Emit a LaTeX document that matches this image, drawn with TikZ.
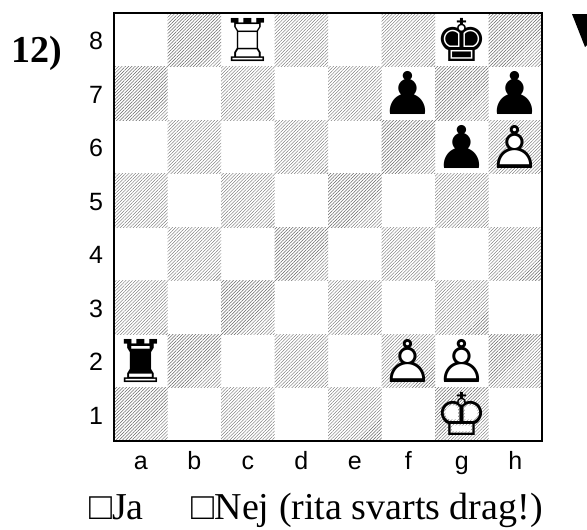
\documentclass[tikz,border=0pt]{standalone}
\usepackage{fontspec}
\setmainfont{Liberation Serif}
\newfontfamily\labfont{Liberation Sans}
\newfontfamily\chessfont{DejaVu Sans}
\usetikzlibrary{patterns.meta}
\begin{document}
\begin{tikzpicture}[x=1pt,y=-1pt,
  hatch/.style={pattern={Lines[angle=45,distance=2.3pt,line width=0.4pt]},pattern color=black!60},
  coord/.style={font=\labfont\fontsize{25}{25}\selectfont,inner sep=0,anchor=base},
  piece/.style={font=\chessfont\fontsize{59}{59}\selectfont,inner sep=0},
  bottomtext/.style={font=\fontsize{38}{38}\selectfont,inner sep=0}]
\path[use as bounding box] (0,0) rectangle (587,530);
\def\bx{114}\def\by{13}\def\sq{53.5}
% hatched dark squares
\foreach \i in {0,...,7}{
  \foreach \j in {0,...,7}{
    \pgfmathtruncatemacro\s{\i+\j}
    \ifodd\s\else
      \fill[hatch] ({\bx+\sq*\i},{\by+\sq*(7-\j)}) rectangle ++(\sq,\sq);
    \fi
  }
}
\draw[line width=1.6pt] (\bx,\by) rectangle ++(8*\sq,8*\sq);
% rank labels
\foreach \r in {1,...,8}{
  \node[coord] (rank\r) at (96,{\by+\sq*(8-\r+0.5)+10}) {\r};
}
% file labels
\foreach \f [count=\k from 0] in {a,b,c,d,e,f,g,h}{
  \node[coord] (file\f) at ({\bx+\sq*(\k+0.5)},469) {\f};
}
% white pieces (interior filled white first)
\node[piece,text=white] at ({\bx+\sq*2.5},{\by+\sq*0.5}) {♜};
\node[piece] (wRc8) at ({\bx+\sq*2.5},{\by+\sq*0.5}) {♖};
\node[piece,text=white] at ({\bx+\sq*7.5},{\by+\sq*2.5}) {♟};
\node[piece] (wPh6) at ({\bx+\sq*7.5},{\by+\sq*2.5}) {♙};
\node[piece,text=white] at ({\bx+\sq*5.5},{\by+\sq*6.5}) {♟};
\node[piece] (wPf2) at ({\bx+\sq*5.5},{\by+\sq*6.5}) {♙};
\node[piece,text=white] at ({\bx+\sq*6.5},{\by+\sq*6.5}) {♟};
\node[piece] (wPg2) at ({\bx+\sq*6.5},{\by+\sq*6.5}) {♙};
\node[piece,text=white] at ({\bx+\sq*6.5},{\by+\sq*7.5}) {♚};
\node[piece] (wKg1) at ({\bx+\sq*6.5},{\by+\sq*7.5}) {♔};
% black pieces
\node[piece] (bKg8) at ({\bx+\sq*6.5},{\by+\sq*0.5}) {♚};
\node[piece] (bPf7) at ({\bx+\sq*5.5},{\by+\sq*1.5}) {♟};
\node[piece] (bPh7) at ({\bx+\sq*7.5},{\by+\sq*1.5}) {♟};
\node[piece] (bPg6) at ({\bx+\sq*6.5},{\by+\sq*2.5}) {♟};
\node[piece] (bRa2) at ({\bx+\sq*0.5},{\by+\sq*6.5}) {♜};
% number
\node[font=\bfseries\fontsize{38}{38}\selectfont,inner sep=0,anchor=base west] (num) at (11,62) {12)};
% side-to-move triangle
\fill (572,14) -- (588,14) -- (588,44) -- (585,47) -- cycle;
% bottom text
\node[bottomtext,anchor=base west] (ja) at (89,519) {□Ja};
\node[bottomtext,anchor=base east] (nej) at (543,519) {□Nej (rita svarts drag!)};
\end{tikzpicture}
\end{document}
